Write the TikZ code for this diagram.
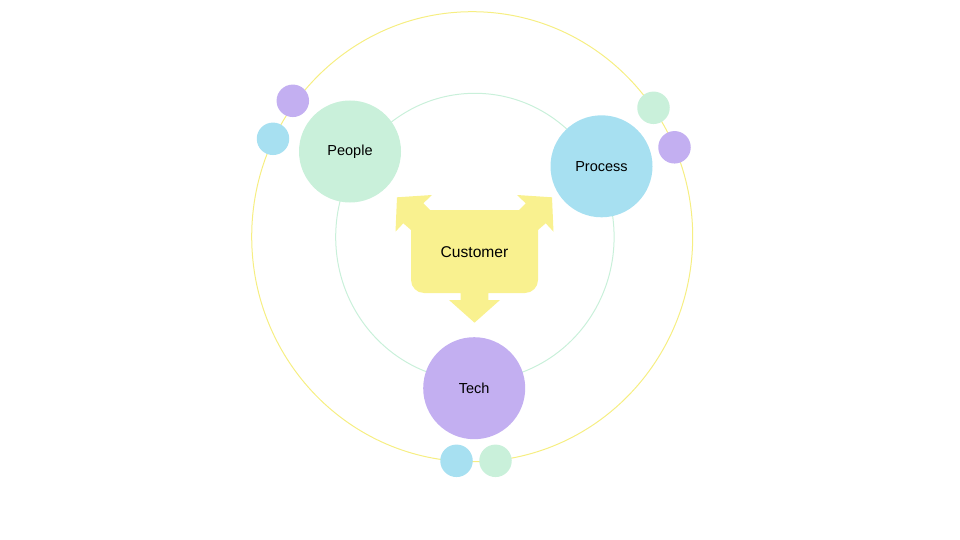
\documentclass[tikz,border=0pt]{standalone}
\usepackage{fontspec}
\setmainfont{Liberation Sans}
\usetikzlibrary{positioning}

\begin{document}
\begin{tikzpicture}[x=1pt, y=-1pt,
        bigdot/.style={circle, inner sep=0pt, minimum size=102pt, font=\fontsize{14.5}{17}\selectfont},
        smalldot/.style={circle, inner sep=0pt, minimum size=32.5pt},
        ring/.style={line width=1pt}]
        \definecolor{hubyellow}{RGB}{249,241,143}
        \definecolor{ringyellow}{RGB}{246,238,130}
        \definecolor{hubgreen}{RGB}{201,240,218}
        \definecolor{hubblue}{RGB}{167,224,241}
        \definecolor{hubpurple}{RGB}{195,175,241}

        \useasboundingbox (0,0) rectangle (960,540);

        % Rings
        \draw[ring, ringyellow] (472.2,236.7) ellipse [x radius=220.5, y radius=225];
        \draw[ring, hubgreen] (474.9,237) ellipse [x radius=139.2, y radius=143.7];

        % Centre - Customer with three arrows
        \fill[hubyellow] (430,210) -- (519,210) -- (525.7,203.3) -- (517,195) -- (552,197.3)
            -- (553.5,231.7) -- (545.7,223.3) -- (538,230) -- (538,280)
            arc[start angle=0, end angle=90, radius=13] -- (488.3,293) -- (488.3,300) -- (500,300)
            -- (474.5,322.7) -- (449,300) -- (460.7,300) -- (460.7,293) -- (424,293)
            arc[start angle=90, end angle=180, radius=13] -- (411,230) -- (403.3,223.3)
            -- (395.5,231.7) -- (397,197.3) -- (432,195) -- (423.3,203.3) -- cycle;
        \node[font=\fontsize{15.6}{18}\selectfont] (cust) at (474.5,252) {Customer};

        % Top left - People
        \node[bigdot, fill=hubgreen] (people) at (350,151.5) {People};
        \node[smalldot, fill=hubpurple] (peopleA) at (292.8,100.8) {};
        \node[smalldot, fill=hubblue] (peopleB) at (273,138.8) {};

        % Top right - Process
        \node[bigdot, fill=hubblue] (proc) at (601.5,166.3) {Process};
        \node[smalldot, fill=hubgreen] (procA) at (653.5,107.8) {};
        \node[smalldot, fill=hubpurple] (procB) at (674.5,147.3) {};

        % Bottom - Tech
        \node[bigdot, fill=hubpurple] (tech) at (474.2,388.2) {Tech};
        \node[smalldot, fill=hubblue] (techA) at (456.5,460.8) {};
        \node[smalldot, fill=hubgreen] (techB) at (495.5,460.8) {};
    \end{tikzpicture}
\end{document}
